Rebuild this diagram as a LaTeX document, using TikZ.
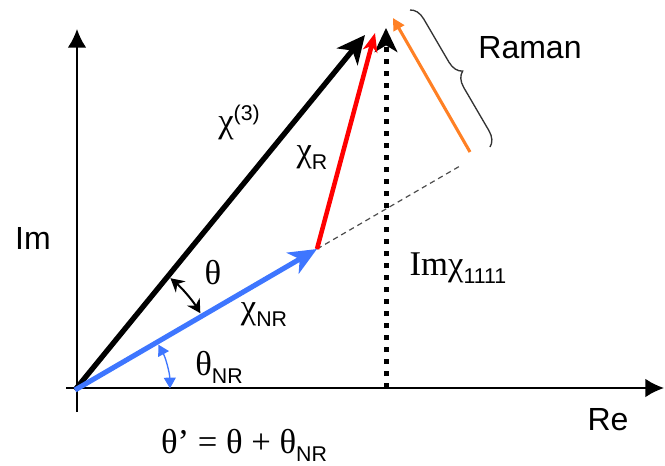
\documentclass[tikz,border=0pt]{standalone}
\usepackage{fontspec}
\setmainfont{Liberation Sans}
\newfontfamily\gk{Liberation Serif}
\usetikzlibrary{arrows.meta, decorations.pathreplacing, calc}

\definecolor{nrblue}{RGB}{62,118,255}
\definecolor{ramred}{RGB}{255,0,0}
\definecolor{ramorange}{RGB}{255,128,36}

% sub- and superscripts in the smaller sans face
\newcommand{\lowr}[1]{\raisebox{-6pt}{\fontsize{16}{16}\selectfont #1}}
\newcommand{\highr}[1]{\raisebox{9pt}{\fontsize{16}{16}\selectfont #1}}

\begin{document}
\begin{tikzpicture}[
  x=0.75pt, y=-0.75pt,
  font=\fontsize{24}{26}\selectfont,
  lbl/.style={inner sep=0pt, anchor=center},
  glbl/.style={lbl, font=\fontsize{26}{28}\selectfont},
  axis/.style={line width=1.4pt, -{Latex[length=14pt, width=14pt]}},
  total/.style={line width=4pt, -{Stealth[length=21pt, width=20pt, inset=6pt]}},
  nonres/.style={line width=3.8pt, draw=nrblue, -{Stealth[length=21pt, width=18pt, inset=6pt]}},
  res/.style={line width=3.4pt, draw=ramred, -{Stealth[length=14pt, width=11pt, inset=4pt]}},
  raman/.style={line width=2.3pt, draw=ramorange, -{Triangle[length=9pt, width=9pt]}},
  imline/.style={line width=3.75pt, dash pattern=on 3.75pt off 5.25pt,
    -{Stealth[length=18pt, width=17pt, inset=5pt]}},
  guide/.style={line width=0.9pt, draw=black!70, dash pattern=on 4pt off 3pt},
  angarc/.style={line width=1.5pt, {Stealth[length=10pt, width=11pt]}-{Stealth[length=10pt, width=11pt]}},
  nrarc/.style={line width=1pt, draw=nrblue, {Triangle[length=8pt, width=9pt]}-{Triangle[length=8pt, width=9pt]}},
  bracket/.style={line width=1pt, draw=black!80, decorate, decoration={brace, amplitude=11pt}},
]
\useasboundingbox (0,0) rectangle (665,465);

% axes
\coordinate (O) at (75,390);
\coordinate (xl) at (66,388);
\coordinate (xr) at (664,388);
\coordinate (yb) at (77,412);
\coordinate (yt) at (77,29);
\draw[axis] (xl) -- (xr);
\draw[axis] (yb) -- (yt);

% phasors
\coordinate (N) at (317,249);
\coordinate (T) at (365,35);
\coordinate (R) at (375,33);
\coordinate (Nx) at (460,166);
\coordinate (Db) at (386,388);
\coordinate (Dt) at (386,28);
\coordinate (Ob) at (470,152);
\coordinate (Ot) at (393,18);

\draw[guide] (N) -- (Nx);
\draw[imline] (Db) -- (Dt);
\draw[total] (O) -- (T);
\draw[res] (N) -- (R);
\draw[nonres] (O) -- (N);
\draw[raman] (Ob) -- (Ot);

% angles
\draw[angarc] ($(O)+(-31.5:147)$) arc[start angle=-31.5, end angle=-49.5, radius=147];
\draw[nrarc] ($(O)+(-1:95)$) arc[start angle=-1, end angle=-28.5, radius=95];

% brace
\coordinate (B1) at (410,10);
\coordinate (B2) at (490,147);
\draw[bracket] (B1) -- (B2);

% labels
\node[lbl] (im) at (33,238) {Im};
\node[lbl] (re) at (608,420) {Re};
\node[lbl] (ram) at (530,48) {Raman};
\node[glbl] (chi3) at (239,122) {{\gk χ}\highr{(3)}};
\node[glbl] (chir) at (312,158) {{\gk χ}\lowr{R}};
\node[glbl] (th) at (213,273) {\gk θ};
\node[glbl] (chinr) at (264,315) {{\gk χ}\lowr{NR}};
\node[glbl] (thnr) at (219,367) {{\gk θ}\lowr{NR}};
\node[glbl] (imchi) at (458,268) {{\gk Imχ}\lowr{1111}};
\node[glbl] (rel) at (244,445) {{\gk θ’ = θ + θ}\lowr{NR}};

\end{tikzpicture}
\end{document}
